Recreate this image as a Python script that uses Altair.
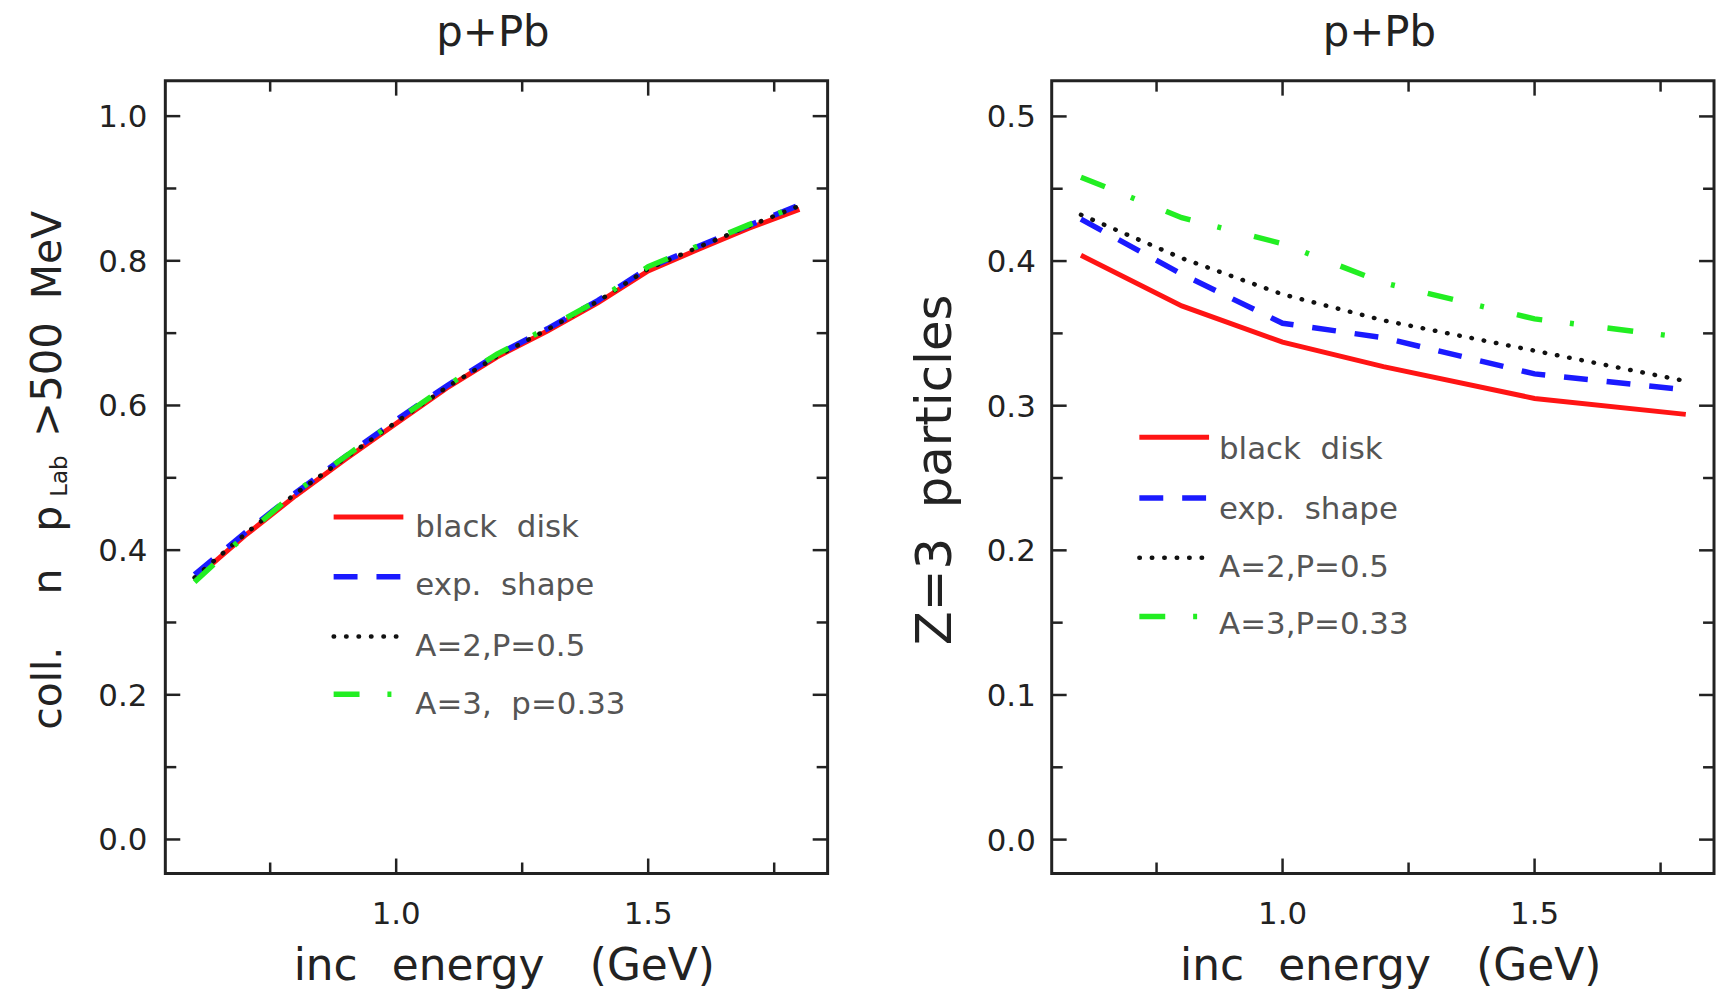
import altair as alt
import pandas as pd

# ---------------- data ----------------
energy_left = [0.6, 0.7, 0.8, 0.9, 1.0, 1.1, 1.2, 1.3, 1.4, 1.5, 1.6, 1.7, 1.8]
left_black_disk = [0.360, 0.420, 0.475, 0.526, 0.575, 0.624, 0.667, 0.703, 0.742, 0.786, 0.816, 0.845, 0.871]
left_exp_shape = [0.366, 0.424, 0.479, 0.530, 0.580, 0.627, 0.670, 0.706, 0.745, 0.790, 0.820, 0.849, 0.877]
left_a2_p05 = [0.362, 0.422, 0.478, 0.528, 0.577, 0.625, 0.668, 0.705, 0.744, 0.789, 0.819, 0.848, 0.876]
left_a3_p033 = [0.356, 0.420, 0.480, 0.530, 0.579, 0.627, 0.671, 0.707, 0.745, 0.792, 0.821, 0.850, 0.877]

energy_right = [0.6, 0.8, 1.0, 1.2, 1.5, 1.8]
right_black_disk = [0.404, 0.369, 0.344, 0.327, 0.305, 0.294]
right_exp_shape = [0.429, 0.391, 0.357, 0.347, 0.322, 0.311]
right_a2_p05 = [0.432, 0.402, 0.377, 0.359, 0.338, 0.317]
right_a3_p033 = [0.458, 0.430, 0.412, 0.385, 0.360, 0.347]

left_labels = ["black\u00a0\u00a0disk", "exp.\u00a0\u00a0shape", "A=2,P=0.5", "A=3,\u00a0\u00a0p=0.33"]
right_labels = ["black\u00a0\u00a0disk", "exp.\u00a0\u00a0shape", "A=2,P=0.5", "A=3,P=0.33"]

x_tick_labels = [1.0, 1.5]
x_ticks_major = [1.0, 1.5]
x_ticks_minor = [0.75, 1.25, 1.75]

left_y_labels = [0.0, 0.2, 0.4, 0.6, 0.8, 1.0]
left_y_minor = [0.1, 0.3, 0.5, 0.7, 0.9]
right_y_labels = [0.0, 0.1, 0.2, 0.3, 0.4, 0.5]
right_y_minor = [0.05, 0.15, 0.25, 0.35, 0.45]

# ---------------- styles ----------------
W, H = 665, 796
XDOM = [0.542, 1.856]
FONT = "DejaVu Sans"
INK = "#222222"
STYLES = [
    dict(color="#ff1414", strokeWidth=5),
    dict(color="#1a1aff", strokeWidth=5.5, strokeDash=[24, 19]),
    dict(color="#111111", strokeWidth=4.5, strokeDash=[0.5, 12], strokeCap="round"),
    dict(color="#22ee22", strokeWidth=5.5, strokeDash=[26, 28, 4, 34]),
]
one = pd.DataFrame({"k": [0]})


def txt(text, x, y, size, angle=0, align="center", color=INK, baseline="alphabetic"):
    kw = dict(text=text, font=FONT, fontSize=size, align=align, baseline=baseline, color=color)
    if angle:
        kw["angle"] = angle
    return alt.Chart(one).mark_text(**kw).encode(x=alt.value(x), y=alt.value(y))


def panel(xv, series, labels, ydom, ylab, yminor, ylab_x, leg, ytitle_parts, anchor_left):
    xs = alt.Scale(domain=XDOM, nice=False, zero=False)
    ys = alt.Scale(domain=ydom, nice=False, zero=False)
    layers = []
    for i, vals in enumerate(series):
        df = pd.DataFrame({"energy": xv, "value": vals})
        layers.append(alt.Chart(df).mark_line(**STYLES[i]).encode(
            x=alt.X("energy:Q", scale=xs, axis=None),
            y=alt.Y("value:Q", scale=ys, axis=None)))

    # inward ticks on all four sides
    def yt(vals, ln):
        d = pd.DataFrame({"v": vals})
        base = alt.Chart(d).mark_rule(color=INK, strokeWidth=2.5)
        return [base.encode(y=alt.Y("v:Q", scale=ys, axis=None), x=alt.value(0), x2=alt.value(ln)),
                base.encode(y=alt.Y("v:Q", scale=ys, axis=None), x=alt.value(W), x2=alt.value(W - ln))]

    def xt(vals, ln):
        d = pd.DataFrame({"v": vals})
        base = alt.Chart(d).mark_rule(color=INK, strokeWidth=2.5)
        return [base.encode(x=alt.X("v:Q", scale=xs, axis=None), y=alt.value(H), y2=alt.value(H - ln)),
                base.encode(x=alt.X("v:Q", scale=xs, axis=None), y=alt.value(0), y2=alt.value(ln))]

    layers += yt(ylab, 15) + yt(yminor, 11) + xt(x_ticks_major, 15) + xt(x_ticks_minor, 11)

    # tick labels
    layers.append(alt.Chart(pd.DataFrame({"v": ylab})).mark_text(
        font=FONT, fontSize=31, color=INK, align="right", baseline="alphabetic", dy=11).encode(
        y=alt.Y("v:Q", scale=ys, axis=None), x=alt.value(ylab_x), text=alt.Text("v:Q", format=".1f")))
    layers.append(alt.Chart(pd.DataFrame({"v": x_tick_labels})).mark_text(
        font=FONT, fontSize=31, color=INK, align="center", baseline="alphabetic").encode(
        x=alt.X("v:Q", scale=xs, axis=None), y=alt.value(847), text=alt.Text("v:Q", format=".1f")))

    # legend
    lx1, lx2, ly, tx, tb = leg
    for i, lab in enumerate(labels):
        layers.append(alt.Chart(one).mark_rule(**STYLES[i]).encode(
            x=alt.value(lx1), x2=alt.value(lx2), y=alt.value(ly[i])))
        layers.append(txt(lab, tx, tb[i], 31, align="left", color="#555555"))

    # titles
    layers.append(txt("p+Pb", 329, -35, 42))
    for s, x, y, size in ytitle_parts:
        layers.append(txt(s, x, y, size, angle=270))
    for s, x in [("inc", 161), ("energy", 304), ("(GeV)", 489)]:
        layers.append(txt(s, x, 903, 44))

    # invisible extent anchor
    layers.append(alt.Chart(one).mark_rule(opacity=0, strokeWidth=1).encode(
        x=alt.value(anchor_left), x2=alt.value(anchor_left + 1), y=alt.value(-77), y2=alt.value(-76)))

    return alt.layer(*layers).properties(width=W, height=H)


left = panel(
    energy_left, [left_black_disk, left_exp_shape, left_a2_p05, left_a3_p033], left_labels,
    [-0.047, 1.049], left_y_labels, left_y_minor, -18,
    (169, 239, [438, 498, 558, 616], 251, [458, 516, 578, 636]),
    [("MeV", -105, 175, 41), ("\u003e500", -105, 300, 42), ("Lab", -99, 397, 23),
     ("p", -105, 440, 41), ("n", -105, 503, 41), ("coll.", -105, 610, 41)],
    -164,
)
right = panel(
    energy_right, [right_black_disk, right_exp_shape, right_a2_p05, right_a3_p033], right_labels,
    [-0.0234, 0.5247], right_y_labels, right_y_minor, -16,
    (88, 158, [358, 419, 479, 538], 168, [380, 440, 498, 556]),
    [("particles", -101, 322, 50), ("Z=3", -101, 513, 50)],
    0,
)

chart = alt.hconcat(left, right, spacing=225, bounds="flush", padding=0).configure_view(
    stroke=INK, strokeWidth=3
)

chart.save("out.html", embed_options={"renderer": "svg", "actions": False})
